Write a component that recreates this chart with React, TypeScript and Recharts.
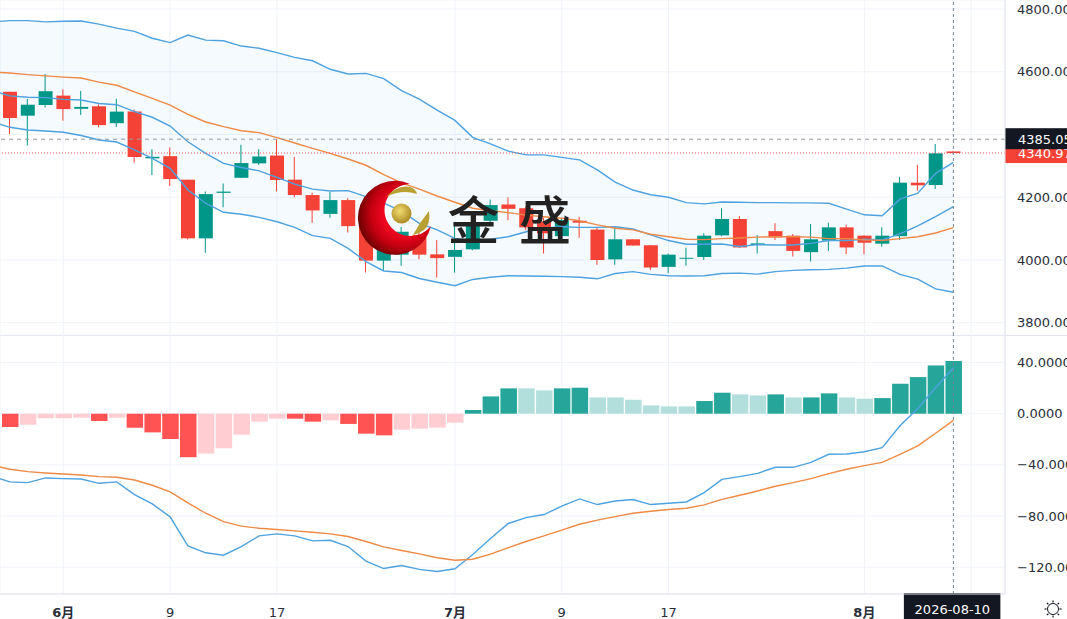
import React from 'react';
import { ComposedChart, Bar, Line, Area, XAxis, YAxis, CartesianGrid, Cell, ReferenceLine } from 'recharts';

const openPrice = [4536,4460,4494,4524,4482,4490,4436,4473,4324,4331,4256,4069,4214,4262,4308,4333,4256,4207,4147,4191,4108,3998,4017,4080,4018,4010,4034,4125,4177,4165,4122,4076,4125,4097,4002,4066,4047,3978,4004,4009.5,4078.6,4130.7,4048,4092,4077.5,4025,4062,4104,4077.5,4052,4076,4246.5,4239,4346];
const highPrice = [4536,4513,4593,4544,4539,4496,4514,4480,4353,4359,4256,4218,4244,4367,4353,4385,4328,4214,4217,4197,4115,4080,4105,4090,4064,4115,4120,4193,4200,4170,4135,4135,4138,4104,4104,4066,4047,4021,4039,4085,4165,4140,4080,4117,4083,4115,4119,4112,4080,4104,4265.6,4303,4370,4347];
const lowPrice = [4402,4365,4486,4444,4462,4423,4424,4310,4271,4236,4065,4023,4168,4262,4303,4218,4200,4119,4135,4088,3960,3965,3982,4002,3944,3960,4031,4120,4127,4095,4021,4070,4071,3985,3985,4046,3968,3958,3982,4000,4076,4038,4021,4064,4011,3995,4029,4019,4018,4042,4063.7,4221,4226,4339];
const closePrice = [4453,4495,4538,4481,4488,4430,4473,4328,4329,4258,4069,4210,4218,4309,4330,4255,4207,4158,4191,4108,3998,4045,4090,4017,4006,4032,4112,4175,4163,4104,4085,4127,4119,4000,4066,4046,3976,4017,4007,4077.5,4130.7,4040,4053,4072,4029,4066,4104,4040,4055,4077.5,4246.5,4238,4340,4340.97];

// band series begin one session before the first candle (off the left edge)
const bandUpper = [4759,4763,4763,4759,4761,4762,4752,4739,4729,4707,4693,4717,4701,4699,4682,4675,4661,4646,4635,4608,4593,4595,4578,4540,4513,4478,4445,4391,4370,4347,4335,4335,4327,4319,4287,4248,4223,4208,4200,4183,4179,4185,4184,4183,4183,4182,4182,4181,4162,4144,4141,4194,4213,4276,4311];
const bandBasis = [4599,4596,4591,4587,4583,4580,4567,4557,4536,4515,4494,4464,4440,4425,4412,4406,4390,4373,4356,4340,4322,4302,4272,4246,4226,4204,4184,4165,4157,4151,4143,4138,4133,4125,4112,4101,4096,4082,4074,4066,4065,4068,4070,4073,4074,4074,4073,4068,4068,4064,4062,4068,4074,4086,4103];
const bandInner = [4540,4523,4519,4517.5,4512,4510,4499,4495,4473,4455,4427,4377,4340,4308,4295,4284,4263.5,4242,4226,4220,4221,4202,4181,4156,4117,4096,4069,4062,4066,4074,4090,4101,4106,4104,4104,4106,4099,4080,4062,4050,4050,4051,4043,4049,4048,4048,4053,4062,4062,4066,4064,4083,4108.4,4138,4170];
const bandLower = [4440,4423,4414.4,4411,4407,4397,4382.5,4376,4351,4324,4292,4223,4181,4152,4146,4136,4122,4104,4077.6,4069,4037,3995,3965,3960,3941,3929,3918,3938,3945,3950,3949,3948,3947,3945,3940,3957,3963,3954,3950,3949,3950,3957,3958,3955,3963,3967,3969,3970,3974,3981,3981,3954,3939,3908,3897];

const histogram = [-10.4,-8.6,-3.6,-3.6,-3.1,-5.7,-3.1,-10.9,-14.6,-19.8,-34,-31.2,-27,-16.4,-6.2,-3.9,-3.9,-6.2,-5.2,-8,-15.6,-16.9,-12.5,-11.7,-10.9,-7,2.9,13.5,19.8,19.8,18.2,19.8,20.3,12.7,12.7,10.9,6.5,5.7,5.7,9.9,16.4,15.1,14.3,15.1,12.7,12.7,15.9,12.7,11.7,12.2,23.4,28.6,37.7,41.1];
const histogramStrong = [1,0,0,0,0,1,0,1,1,1,1,0,0,0,0,0,1,1,0,1,1,1,0,0,0,0,1,1,1,0,0,1,1,0,0,0,0,0,0,1,1,0,0,1,0,1,1,0,0,1,1,1,1,1];
const macdLine = [-49,-53.3,-53.9,-50.2,-50.7,-51,-54.4,-53.3,-63.2,-70.5,-80.6,-103.3,-108.7,-110.6,-103.8,-95.5,-93.9,-95.5,-99.4,-98.9,-103.8,-115.2,-121,-118.6,-121.7,-123.3,-121.2,-110,-97.6,-85.8,-81.2,-78.8,-72.3,-66.6,-71,-68.2,-67.1,-71,-70,-69,-61.7,-51.3,-49.2,-46.6,-41.9,-41.9,-38,-31.7,-31.5,-29.7,-26.5,-9.4,4,20.3,35.9];
const signalLine = [-40.3,-43.4,-45.3,-46.3,-47.1,-47.9,-49.2,-49.7,-51.8,-55.9,-61.1,-69.7,-77.8,-84.3,-87.9,-89.5,-90.5,-91.6,-92.6,-93.9,-96,-99.9,-104.1,-106.9,-109.5,-112.6,-114.5,-113.7,-109.8,-104.6,-99.9,-95.5,-91,-86.4,-83.2,-80.4,-77.8,-76.2,-74.9,-73.9,-71.3,-66.9,-63.7,-60.4,-56.7,-53.9,-50.7,-46.8,-43.4,-40.6,-38,-31.7,-25.2,-15.3,-5.2];

const xTickIndex = [3, 9, 15, 25, 31, 37, 48, 54];
const xTickLabel = ['6月', '9', '17', '7月', '9', '17', '8月', ''];
const priceTicks = [3800, 4000, 4200, 4400, 4600, 4800];
const hiddenPriceLabel = 4400;
const macdTicks = [-120, -80, -40, 0, 40];
const crosshairDate = '2026-08-10';
const crosshairPrice = 4385.05;
const lastPrice = 4340.97;
const lastIndex = 53;

const UP = '#009688';
const DOWN = '#f44336';
const GRID = '#f0f3fa';
const BORDER = '#e0e3eb';
const BLUE = '#4ea2e0';
const ORANGE = '#ee8a45';
const FONT = '"DejaVu Sans", sans-serif';
const X_DOMAIN: [number, number] = [-0.556, 55.9];

const priceRows = bandUpper.map((u, k) => {
  const c = k - 1;
  const has = c >= 0;
  return {
    i: c,
    upper: u,
    basis: bandBasis[k],
    inner: bandInner[k],
    lower: bandLower[k],
    band: [bandLower[k], u],
    wick: has ? [lowPrice[c], highPrice[c]] : null,
    body: has ? [Math.min(openPrice[c], closePrice[c]), Math.max(openPrice[c], closePrice[c])] : null,
    up: has ? closePrice[c] >= openPrice[c] : false,
  };
});

const macdRows = macdLine.map((m, k) => {
  const c = k - 1;
  return {
    i: c,
    macd: m,
    signal: signalLine[k],
    hist: c >= 0 ? histogram[c] : null,
    strong: c >= 0 ? histogramStrong[c] === 1 : false,
  };
});

function histColor(v: number | null, strong: boolean) {
  if (v == null) return 'transparent';
  if (v >= 0) return strong ? '#26a69a' : '#b2dfdb';
  return strong ? '#ff5252' : '#ffcdd2';
}

function XTick(props: any) {
  const { x, y, payload } = props;
  const label = xTickLabel[xTickIndex.indexOf(payload.value)] ?? '';
  return (
    <text x={x} y={y + 15} textAnchor="middle" fontSize={13} fontFamily={'"DejaVu Sans", "Noto Sans CJK SC", sans-serif'}
      fontWeight={label.includes('月') ? 700 : 400} fill="#2a2e39">
      {label}
    </text>
  );
}

function priceTag(text: string, fill: string, dy: number, h: number) {
  return (props: any) => {
    const vb = props.viewBox;
    const ax = vb.x + vb.width;
    return (
      <g>
        <rect x={ax} y={vb.y + dy} width={62} height={h} fill={fill} />
        <text x={ax + 13} y={vb.y + 4.5} fill="#fff" fontSize={13} fontFamily={FONT}>{text}</text>
      </g>
    );
  };
}

function dateTag(props: any) {
  const vb = props.viewBox;
  return (
    <g>
      <rect x={vb.x - 49.5} y={vb.y + vb.height - 1} width={96.5} height={27} fill="#131722" />
      <text x={vb.x - 1} y={vb.y + vb.height + 20} textAnchor="middle" fill="#fff" fontSize={13} fontFamily={FONT}>{crosshairDate}</text>
    </g>
  );
}

function Logo() {
  return (
    <svg width={1067} height={619} style={{ position: 'absolute', left: 0, top: 0, pointerEvents: 'none' }}>
      <defs>
        <radialGradient id="crescentFill" gradientUnits="userSpaceOnUse" cx={404} cy={214} r={46}>
          <stop offset="0.45" stopColor="#f0061f" />
          <stop offset="0.72" stopColor="#c40012" />
          <stop offset="1" stopColor="#6f0000" />
        </radialGradient>
        <radialGradient id="ballFill" cx="0.42" cy="0.38" r="0.65">
          <stop offset="0" stopColor="#f1dc72" />
          <stop offset="1" stopColor="#a9861f" />
        </radialGradient>
      </defs>
      <path d="M410 184 A37 37 0 1 0 431 226 A26 26 0 1 1 410 184 Z" fill="url(#crescentFill)" />
      <circle cx={401.5} cy={213.5} r={10} fill="url(#ballFill)" />
      <path d="M386 197 Q398 184 410 187 Q416 189 417 194 Q402 189 386 197 Z" fill="#b9a032" />
      <path d="M413 235 Q420 222 429 211 Q431 224 424 230 Q418 234 413 235 Z" fill="#b9a032" />
      <text x={473.5} y={240} textAnchor="middle" fontSize={52} fontWeight={500} fill="#222" fontFamily={'"Noto Sans CJK SC", sans-serif'}>金</text>
      <text x={545} y={240} textAnchor="middle" fontSize={52} fontWeight={500} fill="#222" fontFamily={'"Noto Sans CJK SC", sans-serif'}>盛</text>
    </svg>
  );
}

function SettingsIcon() {
  const rays = [0, 45, 90, 135, 180, 225, 270, 315];
  return (
    <svg width={20} height={20} style={{ position: 'absolute', left: 1043, top: 599 }}>
      <circle cx={10} cy={10} r={5.5} fill="none" stroke="#131722" strokeWidth={1} />
      {rays.map((a) => (
        <line key={a} x1={10} y1={3.5} x2={10} y2={1.5} stroke="#131722" strokeWidth={1.2} transform={`rotate(${a} 10 10)`} />
      ))}
    </svg>
  );
}

export default function App() {
  return (
    <div style={{ position: 'absolute', left: 0, top: 0, width: 1067, height: 619, background: '#fff', overflow: 'hidden' }}>
      <div style={{ position: 'absolute', left: 0, top: 0 }}>
        <ComposedChart width={1067} height={335} data={priceRows} margin={{ top: 0, right: 0, bottom: 0, left: 0 }} barGap={0}>
          <CartesianGrid stroke={GRID} />
          <XAxis dataKey="i" type="number" domain={X_DOMAIN} ticks={xTickIndex} allowDataOverflow hide />
          <XAxis xAxisId="wick" dataKey="i" type="number" domain={X_DOMAIN} ticks={xTickIndex} allowDataOverflow hide />
          <YAxis orientation="right" width={62} domain={[3760.9, 4828.8]} ticks={priceTicks} allowDataOverflow interval={0}
            tickLine={false} axisLine={{ stroke: BORDER }}
            tickFormatter={(v: number) => (v === hiddenPriceLabel ? '' : v.toFixed(2))}
            tick={{ fontSize: 13, fontFamily: FONT, fill: '#2a2e39', textAnchor: 'start', dx: -2 }} tickMargin={8} />
          <Area dataKey="band" stroke="none" fill="#2196f3" fillOpacity={0.05} isAnimationActive={false} dot={false} activeDot={false} />
          <Line dataKey="upper" stroke={BLUE} strokeWidth={1.4} dot={false} isAnimationActive={false} />
          <Line dataKey="inner" stroke={BLUE} strokeWidth={1.4} dot={false} isAnimationActive={false} />
          <Line dataKey="lower" stroke={BLUE} strokeWidth={1.4} dot={false} isAnimationActive={false} />
          <Line dataKey="basis" stroke={ORANGE} strokeWidth={1.4} dot={false} isAnimationActive={false} />
          <ReferenceLine y={lastPrice} stroke="#ef5350" strokeDasharray="1 2" label={priceTag(lastPrice.toFixed(2), DOWN, -10, 20)} />
          <Bar xAxisId="wick" dataKey="wick" barSize={1} isAnimationActive={false}>
            {priceRows.map((r) => <Cell key={r.i} fill={r.up ? UP : DOWN} />)}
          </Bar>
          <Bar dataKey="body" barSize={14} isAnimationActive={false}>
            {priceRows.map((r) => <Cell key={r.i} fill={r.up ? UP : DOWN} />)}
          </Bar>
          <ReferenceLine x={lastIndex} stroke="#758696" strokeDasharray="3 3" />
          <ReferenceLine y={crosshairPrice} stroke="#9598a1" strokeDasharray="4 4" label={priceTag(crosshairPrice.toFixed(2), '#131722', -11, 21)} />
        </ComposedChart>
      </div>
      <div style={{ position: 'absolute', left: 0, top: 335, width: 1067, height: 1, background: BORDER }} />
      <div style={{ position: 'absolute', left: 0, top: 335 }}>
        <ComposedChart width={1067} height={284} data={macdRows} margin={{ top: 0, right: 0, bottom: 0, left: 0 }}>
          <CartesianGrid stroke={GRID} />
          <XAxis dataKey="i" type="number" domain={X_DOMAIN} ticks={xTickIndex} interval={0} allowDataOverflow height={25}
            tickLine={false} axisLine={{ stroke: BORDER }} tick={XTick} />
          <YAxis orientation="right" width={62} domain={[-140.9, 61.5]} ticks={macdTicks} allowDataOverflow interval={0}
            tickLine={false} axisLine={{ stroke: BORDER }}
            tickFormatter={(v: number) => v.toFixed(4).replace('-', '−')}
            tick={{ fontSize: 13, fontFamily: FONT, fill: '#2a2e39', textAnchor: 'start', dx: -2 }} tickMargin={8} />
          <Bar dataKey="hist" barSize={16.5} isAnimationActive={false}>
            {macdRows.map((r) => <Cell key={r.i} fill={histColor(r.hist, r.strong)} />)}
          </Bar>
          <Line dataKey="macd" stroke={BLUE} strokeWidth={1.4} dot={false} isAnimationActive={false} />
          <Line dataKey="signal" stroke={ORANGE} strokeWidth={1.4} dot={false} isAnimationActive={false} />
          <ReferenceLine x={lastIndex} stroke="#758696" strokeDasharray="3 3" label={dateTag} />
        </ComposedChart>
      </div>
      <Logo />
      <SettingsIcon />
    </div>
  );
}
